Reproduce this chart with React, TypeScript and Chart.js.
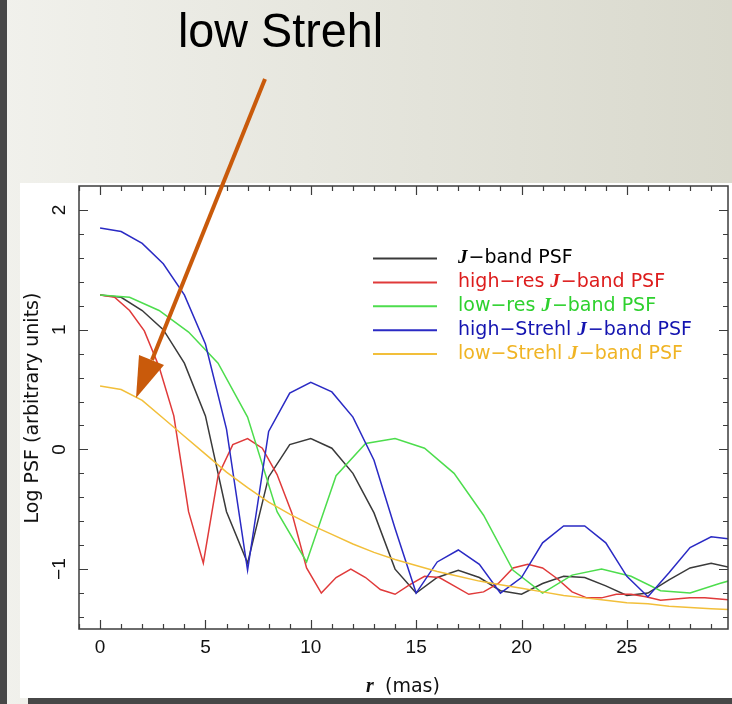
import React, { useEffect, useRef } from "react";
import { Chart, registerables } from "chart.js";

Chart.register(...registerables);

// ---- sampling grids (mas) ----
const rStandard = [0, 1, 2, 3, 4, 5, 6, 7, 8, 9, 10, 11, 12, 13, 14, 15, 16, 17, 18, 19, 20, 21, 22, 23, 24, 25, 26, 27, 28, 29, 30];
const rHighRes = [0, 0.7, 1.4, 2.1, 2.8, 3.5, 4.2, 4.9, 5.6, 6.3, 7, 7.7, 8.4, 9.1, 9.8, 10.5, 11.2, 11.9, 12.6, 13.3, 14, 14.7, 15.4, 16.1, 16.8, 17.5, 18.2, 18.9, 19.6, 20.3, 21, 21.7, 22.4, 23.1, 23.8, 24.5, 25.2, 25.9, 26.6, 27.3, 28, 28.7, 29.4, 30.1];
const rLowRes = [0, 1.4, 2.8, 4.2, 5.6, 7, 8.4, 9.8, 11.2, 12.6, 14, 15.4, 16.8, 18.2, 19.6, 21, 22.4, 23.8, 25.2, 26.6, 28, 29.4, 30.8];

// ---- Log PSF values ----
const jBandPSF = [1.29, 1.27, 1.16, 1.0, 0.72, 0.28, -0.52, -0.95, -0.23, 0.04, 0.09, 0.01, -0.2, -0.53, -1.0, -1.2, -1.07, -1.01, -1.07, -1.18, -1.21, -1.12, -1.06, -1.07, -1.14, -1.22, -1.2, -1.09, -0.99, -0.95, -0.99];
const highResPSF = [1.29, 1.27, 1.16, 0.99, 0.69, 0.28, -0.52, -0.95, -0.22, 0.04, 0.09, 0.01, -0.21, -0.53, -0.99, -1.2, -1.07, -1.0, -1.07, -1.17, -1.21, -1.13, -1.06, -1.07, -1.14, -1.21, -1.19, -1.12, -0.99, -0.96, -0.99, -1.08, -1.19, -1.24, -1.24, -1.21, -1.21, -1.23, -1.26, -1.25, -1.24, -1.24, -1.25, -1.26];
const lowResPSF = [1.29, 1.27, 1.16, 0.98, 0.72, 0.27, -0.52, -0.94, -0.22, 0.05, 0.09, 0.01, -0.2, -0.55, -1.01, -1.2, -1.05, -1.0, -1.06, -1.18, -1.2, -1.12, -1.05];
const highStrehlPSF = [1.85, 1.82, 1.72, 1.55, 1.29, 0.88, 0.17, -1.01, 0.15, 0.47, 0.56, 0.48, 0.27, -0.09, -0.66, -1.2, -0.94, -0.84, -0.96, -1.2, -1.07, -0.78, -0.64, -0.64, -0.78, -1.06, -1.23, -1.03, -0.82, -0.73, -0.75];
const lowStrehlPSF = [0.53, 0.5, 0.41, 0.26, 0.11, -0.04, -0.19, -0.32, -0.44, -0.54, -0.63, -0.71, -0.79, -0.86, -0.92, -0.97, -1.02, -1.06, -1.1, -1.13, -1.16, -1.19, -1.22, -1.24, -1.26, -1.28, -1.29, -1.31, -1.32, -1.33, -1.34];

// ---- legend / labels ----
const legendPrefix = ["", "high\u2212res ", "low\u2212res ", "high\u2212Strehl ", "low\u2212Strehl "];
const legendSuffix = "\u2212band PSF";
const lineColors = ["#3a3a3a", "#e03a3a", "#4ddd4d", "#2a2ac4", "#f2bf3a"];
const textColors = ["#000000", "#dd1c1c", "#2ed12e", "#1414b0", "#f0b424"];
const xTickLabels = [0, 5, 10, 15, 20, 25];
const yTickLabels = [-1, 0, 1, 2];
const annotationText = "low Strehl";

function pts(xs: number[], ys: number[]) {
  return ys.map((y, i) => ({ x: xs[i], y }));
}

const decor = {
  id: "decor",
  beforeDraw(chart: any) {
    const ctx = chart.ctx as CanvasRenderingContext2D;
    const W = chart.width, H = chart.height;
    ctx.save();
    const g = ctx.createLinearGradient(0, 0, W, 0);
    g.addColorStop(0, "#f1f1ec");
    g.addColorStop(1, "#d9d9cd");
    ctx.fillStyle = g;
    ctx.fillRect(0, 0, W, H);
    ctx.fillStyle = "#474747";
    ctx.fillRect(0, 0, 7, H);
    ctx.fillRect(28, 698, W - 28, H - 698);
    ctx.fillStyle = "#ffffff";
    ctx.fillRect(20, 183, W - 20, 515);
    ctx.restore();
  },
  afterDatasetsDraw(chart: any) {
    const ctx = chart.ctx as CanvasRenderingContext2D;
    const { left, right, top, bottom } = chart.chartArea;
    const xs = chart.scales.x, ys = chart.scales.y;
    ctx.save();
    ctx.strokeStyle = "#3c3c3c";
    ctx.lineWidth = 1.5;
    ctx.strokeRect(left, top, right - left, bottom - top);
    ctx.lineWidth = 1.2;
    ctx.beginPath();
    for (let v = -1; v <= 29; v++) {
      const px = Math.round(xs.getPixelForValue(v)) + 0.5;
      const len = v % 5 === 0 ? 9 : 5;
      ctx.moveTo(px, bottom); ctx.lineTo(px, bottom - len);
      ctx.moveTo(px, top); ctx.lineTo(px, top + len);
    }
    for (let k = -7; k <= 10; k++) {
      const v = k / 5;
      const py = Math.round(ys.getPixelForValue(v)) + 0.5;
      const len = k % 5 === 0 ? 9 : 5;
      ctx.moveTo(left, py); ctx.lineTo(left + len, py);
      ctx.moveTo(right, py); ctx.lineTo(right - len, py);
    }
    ctx.stroke();

    // tick labels
    ctx.fillStyle = "#111";
    ctx.font = "19px 'Liberation Sans'";
    ctx.textAlign = "center";
    ctx.textBaseline = "middle";
    xTickLabels.forEach((v) => {
      ctx.fillText(String(v), xs.getPixelForValue(v), 648);
    });
    yTickLabels.forEach((v) => {
      const py = ys.getPixelForValue(v);
      ctx.save();
      ctx.translate(60, py);
      ctx.rotate(-Math.PI / 2);
      ctx.fillText(v < 0 ? "\u2212" + Math.abs(v) : String(v), 0, 0);
      ctx.restore();
    });

    // axis titles
    ctx.save();
    ctx.translate(33, 408);
    ctx.rotate(-Math.PI / 2);
    ctx.font = "19px 'DejaVu Sans'";
    ctx.fillText("Log PSF (arbitrary units)", 0, 0);
    ctx.restore();

    ctx.textAlign = "left";
    ctx.textBaseline = "alphabetic";
    ctx.font = "bold italic 20px 'Liberation Serif'";
    ctx.fillText("r", 366, 692);
    ctx.font = "19px 'DejaVu Sans'";
    ctx.fillText("(mas)", 385, 692);
    ctx.restore();
  },
  afterDraw(chart: any) {
    const ctx = chart.ctx as CanvasRenderingContext2D;
    ctx.save();
    // legend
    for (let i = 0; i < legendPrefix.length; i++) {
      const y = 258.5 + i * 23.9;
      ctx.strokeStyle = lineColors[i];
      ctx.lineWidth = 2;
      ctx.beginPath();
      ctx.moveTo(373, y);
      ctx.lineTo(437, y);
      ctx.stroke();
      ctx.fillStyle = textColors[i];
      ctx.textBaseline = "middle";
      ctx.textAlign = "left";
      let x = 458;
      ctx.font = "19px 'DejaVu Sans'";
      if (legendPrefix[i]) {
        ctx.fillText(legendPrefix[i], x, y);
        x += ctx.measureText(legendPrefix[i]).width;
      }
      ctx.font = "bold italic 19px 'Liberation Serif'";
      ctx.fillText("J", x, y);
      x += ctx.measureText("J").width + 1;
      ctx.font = "19px 'DejaVu Sans'";
      ctx.fillText(legendSuffix, x, y);
    }

    // annotation text
    ctx.fillStyle = "#000";
    ctx.font = "48px 'Liberation Sans'";
    ctx.textBaseline = "alphabetic";
    const w = ctx.measureText(annotationText).width;
    ctx.save();
    ctx.translate(178, 47);
    ctx.scale(205 / w, 1);
    ctx.fillText(annotationText, 0, 0);
    ctx.restore();

    // arrow
    ctx.strokeStyle = "#c95a0b";
    ctx.fillStyle = "#c95a0b";
    ctx.lineWidth = 4;
    ctx.beginPath();
    ctx.moveTo(265, 79);
    ctx.lineTo(152, 360);
    ctx.stroke();
    ctx.beginPath();
    ctx.moveTo(136, 398);
    ctx.lineTo(139, 355);
    ctx.lineTo(164, 365);
    ctx.closePath();
    ctx.fill();
    ctx.restore();
  },
};

export default function App() {
  const ref = useRef<HTMLCanvasElement | null>(null);
  useEffect(() => {
    if (!ref.current) return;
    const series = [
      { d: pts(rStandard, jBandPSF), c: lineColors[0], o: 4 },
      { d: pts(rHighRes, highResPSF), c: lineColors[1], o: 3 },
      { d: pts(rLowRes, lowResPSF), c: lineColors[2], o: 2 },
      { d: pts(rStandard, highStrehlPSF), c: lineColors[3], o: 1 },
      { d: pts(rStandard, lowStrehlPSF), c: lineColors[4], o: 0 },
    ];
    const chart = new Chart(ref.current, {
      type: "line",
      data: {
        datasets: series.map((s, i) => ({
          label: legendPrefix[i] + "J" + legendSuffix,
          data: s.d,
          borderColor: s.c,
          backgroundColor: s.c,
          borderWidth: 1.5,
          pointRadius: 0,
          tension: 0,
          fill: false,
          clip: 0,
          order: s.o,
        })),
      },
      options: {
        animation: false,
        responsive: false,
        devicePixelRatio: 1,
        layout: { padding: { left: 79, right: 4, top: 186, bottom: 75 } },
        scales: {
          x: { type: "linear", min: -1, max: 29.8, display: false },
          y: { type: "linear", min: -1.5, max: 2.2, display: false },
        },
        plugins: { legend: { display: false }, tooltip: { enabled: false } },
      },
      plugins: [decor],
    } as any);
    return () => chart.destroy();
  }, []);
  return (
    <div style={{ position: "absolute", left: 0, top: 0, width: 732, height: 704 }}>
      <canvas ref={ref} width={732} height={704} style={{ display: "block", width: 732, height: 704 }} />
    </div>
  );
}
